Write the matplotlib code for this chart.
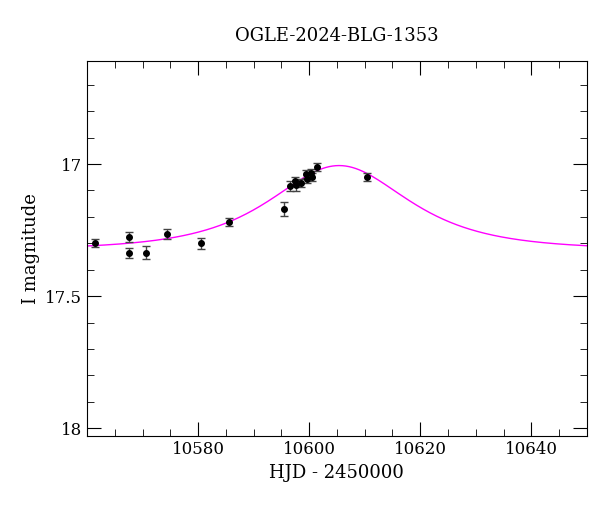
import numpy as np
import matplotlib
matplotlib.use("Agg")
import matplotlib.pyplot as plt
from matplotlib.ticker import MultipleLocator

hjd = [10561.4, 10567.6, 10567.6, 10570.7, 10574.4, 10580.5, 10585.6,
       10595.5, 10596.5, 10597.5, 10597.6, 10598.6, 10599.5, 10599.6,
       10600.4, 10600.5, 10601.5, 10610.5]
mag = [17.30, 17.277, 17.337, 17.335, 17.265, 17.30, 17.22,
       17.17, 17.083, 17.064, 17.081, 17.071, 17.038, 17.058,
       17.033, 17.048, 17.01, 17.05]
err = [0.015, 0.02, 0.02, 0.025, 0.018, 0.02, 0.015,
       0.025, 0.018, 0.015, 0.02, 0.015, 0.015, 0.015,
       0.015, 0.015, 0.015, 0.015]
xticks = [10580, 10600, 10620, 10640]
t0, u0, tE, base = 10605.4, 1.0, 15.0, 17.325

plt.rcParams["font.family"] = "DejaVu Serif"
fig = plt.figure(figsize=(6, 5.12), dpi=100)
ax = fig.add_axes([0.145, 0.148, 0.833, 0.733])

t = np.linspace(10560, 10650, 600)
u = np.sqrt(u0**2 + ((t - t0) / tE)**2)
A = (u**2 + 2) / (u * np.sqrt(u**2 + 4))
ax.plot(t, base - 2.5 * np.log10(A), color="magenta", lw=1)
ax.errorbar(hjd, mag, yerr=err, fmt="o", color="black", ms=4,
            ecolor="#444444", elinewidth=1, capsize=3, capthick=1)

ax.set_xlim(10560, 10650)
ax.set_ylim(18.03, 16.61)
ax.set_xticks(xticks)
ax.xaxis.set_minor_locator(MultipleLocator(5))
ax.yaxis.set_minor_locator(MultipleLocator(0.1))
ax.set_yticks([17, 17.5, 18])
ax.set_yticklabels(["17", "17.5", "18"])
ax.tick_params(which="both", direction="in", top=True, right=True, labelsize=12)
ax.tick_params(which="major", length=10)
ax.tick_params(which="minor", length=5)
ax.set_xlabel("HJD - 2450000", fontsize=13)
ax.set_ylabel("I magnitude", fontsize=13)
ax.set_title("OGLE-2024-BLG-1353", fontsize=13, pad=14)
fig.savefig("out.png")
